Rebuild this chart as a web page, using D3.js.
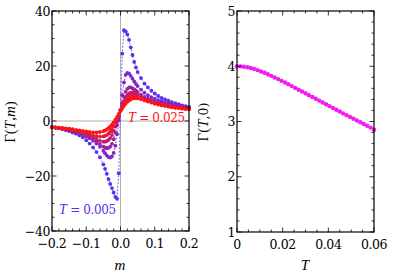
<!DOCTYPE html>
<html><head><meta charset="utf-8">
<script src="https://cdn.jsdelivr.net/npm/d3@7"></script>
<style>
body{margin:0;background:#fff;}
svg{display:block;}
</style></head><body>
<svg id="c" width="399" height="279"></svg>
<script>
// ---------- data ----------
const mGrid = [-0.2,-0.19,-0.18,-0.17,-0.16,-0.15,-0.14,-0.13,-0.12,-0.11,-0.10,-0.09,-0.08,-0.07,-0.06,
  -0.05,-0.045,-0.04,-0.035,-0.03,-0.025,-0.02,-0.015,-0.01,-0.005,0,0.005,0.01,0.015,0.02,0.025,0.03,0.035,0.04,0.045,0.05,
  0.06,0.07,0.08,0.09,0.10,0.11,0.12,0.13,0.14,0.15,0.16,0.17,0.18,0.19,0.2];
const temps = [0.005,0.009,0.013,0.017,0.021,0.025];
const gT005 = [-2.1,-2.3,-2.6,-2.9,-3.3,-3.7,-4.2,-4.6,-5.2,-5.9,-7.0,-8.2,-9.6,-11.3,-13.2,
  -15.8,-17.4,-19.2,-21.1,-22.9,-24.4,-26.0,-27.6,-28.3,-19.0,4.0,24.5,33.0,32.6,31.5,29.5,26.8,24.0,21.5,19.5,17.8,
  15.6,13.6,12.2,11.0,10.0,9.1,8.4,7.9,7.4,6.9,6.5,6.1,5.7,5.4,5.1];
const gT009 = [-2.2,-2.4,-2.6,-2.8,-3.1,-3.4,-3.7,-4.1,-4.5,-5.0,-5.6,-6.3,-7.2,-8.2,-9.4,
  -10.9,-11.7,-12.5,-13.1,-13.3,-12.9,-11.6,-9.0,-4.8,0.2,4.0,9.5,14.0,16.8,17.5,17.2,16.4,15.4,14.4,13.5,12.7,
  11.4,10.3,9.4,8.7,8.1,7.6,7.2,6.8,6.5,6.2,5.9,5.7,5.4,5.2,5.0];
const gT013 = [-2.3,-2.4,-2.6,-2.8,-3.0,-3.2,-3.5,-3.8,-4.2,-4.6,-5.1,-5.7,-6.5,-7.4,-8.4,
  -9.3,-9.7,-9.9,-9.8,-9.3,-8.3,-6.6,-4.2,-1.5,1.3,3.9,6.5,8.8,10.6,11.7,12.2,12.2,11.9,11.5,11.0,10.5,
  9.6,8.8,8.2,7.6,7.1,6.7,6.4,6.1,5.8,5.6,5.4,5.2,5.0,4.8,4.7];
const gT017 = [-2.3,-2.4,-2.6,-2.7,-2.9,-3.1,-3.3,-3.6,-3.9,-4.3,-4.8,-5.4,-6.0,-6.7,-7.2,
  -7.5,-7.5,-7.3,-6.9,-6.2,-5.1,-3.7,-2.0,-0.1,1.9,3.8,5.6,7.2,8.5,9.4,10.0,10.3,10.3,10.1,9.8,9.5,
  8.8,8.2,7.6,7.1,6.7,6.3,6.0,5.7,5.5,5.3,5.1,4.9,4.8,4.6,4.5];
const gT021 = [-2.3,-2.4,-2.5,-2.7,-2.8,-3.0,-3.2,-3.4,-3.7,-4.0,-4.4,-4.8,-5.2,-5.5,-5.7,
  -5.6,-5.4,-5.1,-4.6,-3.9,-3.0,-1.9,-0.6,0.8,2.3,3.7,5.0,6.2,7.2,8.0,8.6,9.0,9.2,9.2,9.1,8.9,
  8.4,7.8,7.3,6.9,6.5,6.1,5.8,5.6,5.3,5.1,4.9,4.8,4.6,4.5,4.4];
const gT025 = [-2.2,-2.3,-2.4,-2.5,-2.7,-2.8,-3.0,-3.2,-3.4,-3.6,-3.8,-4.0,-4.1,-4.1,-4.0,
  -3.7,-3.4,-3.1,-2.6,-2.0,-1.3,-0.5,0.5,1.5,2.6,3.6,4.6,5.5,6.3,7.0,7.5,7.9,8.2,8.3,8.3,8.2,
  7.9,7.5,7.1,6.7,6.3,6.0,5.7,5.5,5.2,5.0,4.8,4.7,4.5,4.4,4.3];
const curves = [gT005,gT009,gT013,gT017,gT021,gT025];

const tGrid = [0,0.0015,0.003,0.0045,0.006,0.0075,0.009,0.0105,0.012,0.0135,0.015,0.0165,0.018,0.0195,0.021,0.0225,
  0.024,0.0255,0.027,0.0285,0.03,0.0315,0.033,0.0345,0.036,0.0375,0.039,0.0405,0.042,0.0435,0.045,0.0465,0.048,
  0.0495,0.051,0.0525,0.054,0.0555,0.057,0.0585,0.06];
const gamma0 = [4.000,3.998,3.992,3.982,3.968,3.951,3.930,3.906,3.881,3.854,3.826,3.797,3.767,3.736,3.705,3.673,
  3.641,3.608,3.576,3.543,3.510,3.477,3.444,3.411,3.378,3.345,3.312,3.279,3.246,3.213,3.180,3.147,3.115,
  3.082,3.050,3.018,2.986,2.954,2.922,2.890,2.850];

const leftXTicks = [-0.2,-0.1,0,0.1,0.2];
const leftYTicks = [-40,-20,0,20,40];
const rightXTicks = [0,0.02,0.04,0.06];
const rightYTicks = [1,2,3,4,5];

// ---------- drawing ----------
const NUMF = "DejaVu Serif";
const TXTF = "Liberation Serif";
const svg = d3.select("#c");
const fmtM = d => d===0 ? "0.0" : d3.format(".1f")(d).replace("-","\u2212");
const fmtT = d => d===0 ? "0" : d3.format(".2f")(d);
const fmtY = d => String(d).replace("-","\u2212");
const FS = 12.5;

function frame(g, x, y, xt, yt, xminor, yminor, xf, yf){
  const [x0,x1]=x.range(), [y0,y1]=y.range();
  const tk = g.append("g").attr("stroke","#000").attr("stroke-width",0.8);
  xminor.forEach(v=>{
    const L = xt.includes(v)?4.5:2.5;
    tk.append("line").attr("x1",x(v)).attr("x2",x(v)).attr("y1",y0).attr("y2",y0-L);
    tk.append("line").attr("x1",x(v)).attr("x2",x(v)).attr("y1",y1).attr("y2",y1+L);
  });
  yminor.forEach(v=>{
    const L = yt.includes(v)?4.5:2.5;
    tk.append("line").attr("y1",y(v)).attr("y2",y(v)).attr("x1",x0).attr("x2",x0+L);
    tk.append("line").attr("y1",y(v)).attr("y2",y(v)).attr("x1",x1).attr("x2",x1-L);
  });
  g.append("rect").attr("x",x0).attr("y",y1).attr("width",x1-x0).attr("height",y0-y1)
    .attr("fill","none").attr("stroke","#000").attr("stroke-width",1.2);
  xt.forEach(v=>g.append("text").attr("x",x(v)).attr("y",y0+16.5).attr("text-anchor","middle")
    .attr("font-family",NUMF).attr("font-size",FS).attr("letter-spacing",-0.4).text(xf(v)));
  yt.forEach(v=>g.append("text").attr("x",x0-2).attr("y",y(v)+4.5).attr("text-anchor","end")
    .attr("font-family",NUMF).attr("font-size",FS).attr("letter-spacing",-0.4).text(yf(v)));
}

// left panel
const xL = d3.scaleLinear().domain([-0.2,0.2]).range([52,189]);
const yL = d3.scaleLinear().domain([-40,40]).range([231,11]);
const gL = svg.append("g");
gL.append("line").attr("x1",xL(0)).attr("x2",xL(0)).attr("y1",yL(-40)).attr("y2",yL(40)).attr("stroke","#b0b0b0").attr("stroke-width",1);
gL.append("line").attr("x1",xL(-0.2)).attr("x2",xL(0.2)).attr("y1",yL(0)).attr("y2",yL(0)).attr("stroke","#b0b0b0").attr("stroke-width",1);

const col = d3.scaleLinear().domain([0,temps.length-1]).range(["#5e2cf2","#ff1414"]).interpolate(d3.interpolateRgb);
const line = d3.line().x((d,i)=>xL(mGrid[i])).y(d=>yL(d));
curves.forEach((c,k)=>{
  const g = gL.append("g");
  g.append("path").attr("d",line(c)).attr("fill","none").attr("stroke",col(k)).attr("stroke-width",0.8).attr("stroke-dasharray","2,1.5");
  g.selectAll("circle").data(c).join("circle").attr("cx",(d,i)=>xL(mGrid[i])).attr("cy",d=>yL(d)).attr("r",1.9).attr("fill",col(k));
});
frame(gL,xL,yL,leftXTicks,leftYTicks,d3.range(-0.2,0.2001,0.02).map(v=>+v.toFixed(2)),d3.range(-40,40.1,5),fmtM,fmtY);

// annotations
function tLabel(x,y,val,color){
  const t = gL.append("text").attr("x",x).attr("y",y).attr("fill",color).attr("font-size",12);
  t.append("tspan").attr("font-family",TXTF).attr("font-style","italic").attr("font-size",14).text("T");
  t.append("tspan").attr("font-family",NUMF).attr("letter-spacing",-0.4).text(" = "+val);
}
tLabel(128,121.5,temps[temps.length-1],col(temps.length-1));
tLabel(59,214,temps[0],col(0));

svg.append("text").attr("x",120).attr("y",270).attr("text-anchor","middle").attr("font-family",TXTF).attr("font-size",15).attr("font-style","italic").text("m");
const yl1 = svg.append("text").attr("transform","translate(15,122) rotate(-90)").attr("text-anchor","middle").attr("font-family",TXTF).attr("font-size",15);
yl1.append("tspan").text("\u0393(");
yl1.append("tspan").attr("font-style","italic").text("T");
yl1.append("tspan").text(",");
yl1.append("tspan").attr("font-style","italic").text("m");
yl1.append("tspan").text(")");

// right panel
const xR = d3.scaleLinear().domain([0,0.06]).range([237,374]);
const yR = d3.scaleLinear().domain([1,5]).range([232,11]);
const gR = svg.append("g");
gR.selectAll("circle").data(gamma0).join("circle").attr("cx",(d,i)=>xR(tGrid[i])).attr("cy",d=>yR(d)).attr("r",2.2).attr("fill","#f21cf2");
frame(gR,xR,yR,rightXTicks,rightYTicks,d3.range(0,0.0601,0.005).map(v=>+v.toFixed(3)),d3.range(1,5.01,0.2).map(v=>+v.toFixed(1)),fmtT,fmtY);
svg.append("text").attr("x",305).attr("y",270).attr("text-anchor","middle").attr("font-family",TXTF).attr("font-size",15).attr("font-style","italic").text("T");
const yl2 = svg.append("text").attr("transform","translate(208,122) rotate(-90)").attr("text-anchor","middle").attr("font-family",TXTF).attr("font-size",15);
yl2.append("tspan").text("\u0393(");
yl2.append("tspan").attr("font-style","italic").text("T");
yl2.append("tspan").attr("font-family",NUMF).attr("font-size",12.5).text(",0)");
</script>
</body></html>
